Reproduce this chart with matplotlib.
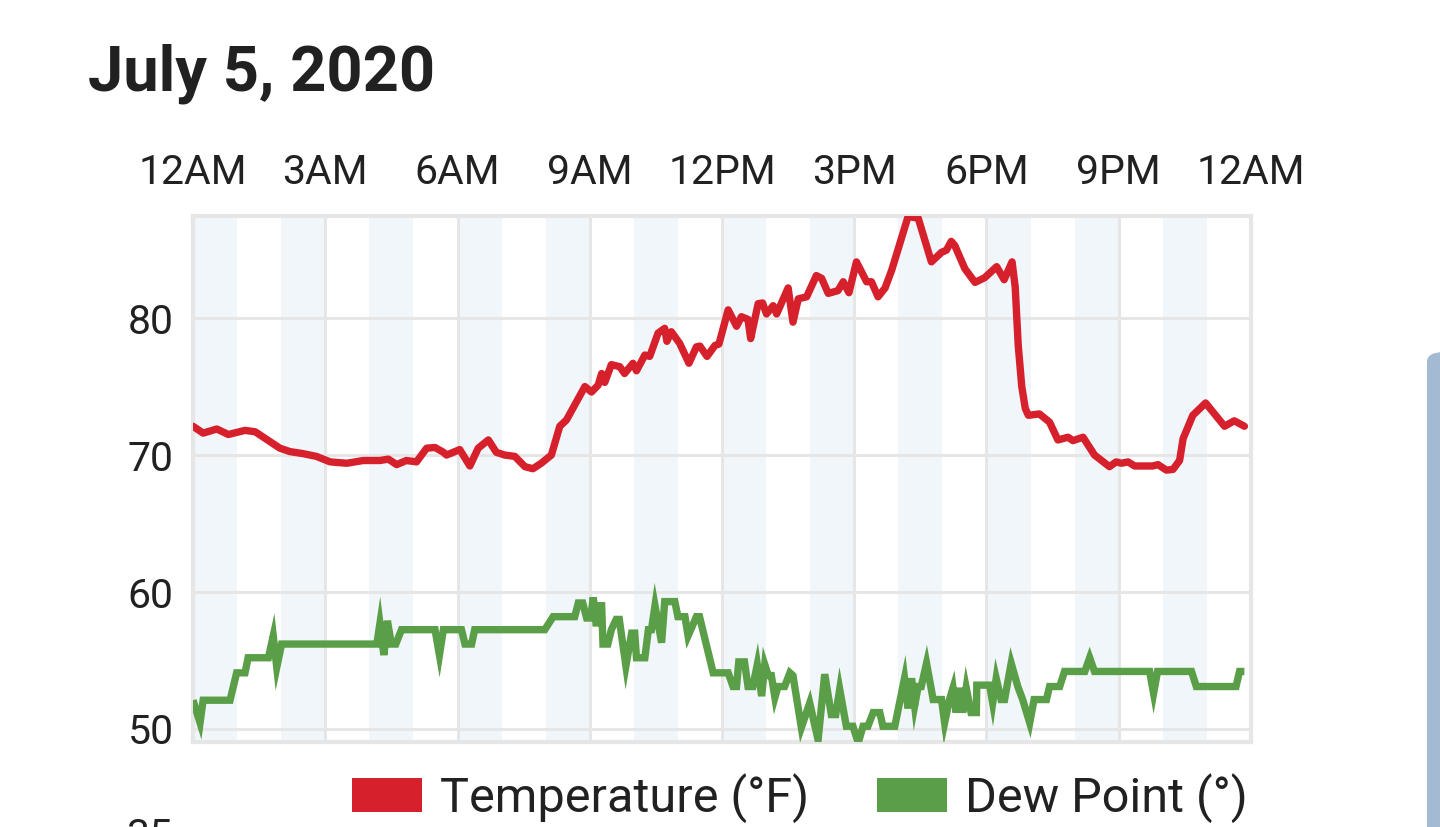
import matplotlib
matplotlib.use("Agg")
import matplotlib.pyplot as plt
from matplotlib.patches import Patch, FancyBboxPatch

plt.rcParams['font.family'] = ['Roboto', 'DejaVu Sans']

title = "July 5, 2020"
x_tick_hours = [0, 3, 6, 9, 12, 15, 18, 21, 24]
x_tick_labels = ["12AM", "3AM", "6AM", "9AM", "12PM", "3PM", "6PM", "9PM", "12AM"]
y_ticks = [50, 60, 70, 80]
shaded_hours = [0, 2, 4, 6, 8, 10, 12, 14, 16, 18, 20, 22]
series_names = ["Temperature (°F)", "Dew Point (°)"]

temp_t = [0.00, 0.23, 0.54, 0.80, 1.18, 1.41, 1.97, 2.20, 2.50, 2.80, 3.11, 3.49, 3.86, 4.24,
          4.43, 4.62, 4.84, 5.07, 5.30, 5.49, 5.68, 5.75, 5.83, 6.05, 6.28, 6.47, 6.70, 6.88,
          7.07, 7.30, 7.53, 7.71, 7.90, 8.13, 8.22, 8.32, 8.47, 8.70, 8.89, 9.04, 9.19, 9.27,
          9.34, 9.49, 9.68, 9.79, 9.98, 10.06, 10.25, 10.36, 10.55, 10.70, 10.75, 10.85,
          11.04, 11.25, 11.42, 11.50, 11.66, 11.84, 11.93, 12.14, 12.33, 12.44, 12.59, 12.65,
          12.82, 12.92, 13.01, 13.16, 13.24, 13.50, 13.61, 13.73, 13.92, 14.14, 14.26, 14.41,
          14.63, 14.75, 14.88, 15.05, 15.28, 15.39, 15.54, 15.70, 15.85, 16.22, 16.45, 16.75,
          16.98, 17.09, 17.20, 17.28, 17.51, 17.74, 17.96, 18.23, 18.40, 18.58, 18.65, 18.72,
          18.80, 18.88, 18.95, 19.20, 19.43, 19.62, 19.85, 19.96, 20.19, 20.45, 20.79, 20.94,
          21.06, 21.21, 21.36, 21.77, 21.89, 22.08, 22.23, 22.38, 22.46, 22.68, 22.97, 23.40,
          23.62, 23.85]
temp_v = [72.1, 71.6, 71.9, 71.5, 71.8, 71.7, 70.5, 70.25, 70.1, 69.9, 69.5, 69.4, 69.6, 69.6,
          69.7, 69.3, 69.6, 69.5, 70.5, 70.55, 70.2, 70.0, 70.1, 70.4, 69.2, 70.5, 71.1, 70.2,
          70.0, 69.9, 69.15, 69.0, 69.4, 70.0, 71.0, 72.1, 72.55, 73.9, 75.0, 74.6, 75.1, 75.95,
          75.3, 76.6, 76.45, 75.95, 76.7, 76.15, 77.3, 77.2, 78.9, 79.25, 78.3, 79.0,
          78.15, 76.7, 77.9, 77.95, 77.2, 78.0, 78.1, 80.6, 79.4, 80.1, 79.9, 78.5,
          81.05, 81.1, 80.3, 80.9, 80.3, 82.2, 79.7, 81.4, 81.55, 83.1, 82.9, 81.8,
          82.0, 82.65, 81.85, 84.1, 82.65, 82.65, 81.55, 82.2, 83.5, 87.4, 87.3, 84.1,
          84.8, 84.95, 85.6, 85.3, 83.6, 82.6, 82.95, 83.75, 82.8, 84.1, 82.3, 78.0,
          75.0, 73.4, 72.9, 73.0, 72.4, 71.1, 71.3, 71.05, 71.3, 70.0, 69.15, 69.5,
          69.4, 69.5, 69.2, 69.2, 69.3, 68.9, 68.95, 69.6, 71.2, 72.9, 73.8, 72.1,
          72.5, 72.1]

dew_t = [0.00, 0.16, 0.23, 0.84, 0.99, 1.18, 1.25, 1.71, 1.82, 1.90, 2.01, 4.17, 4.24, 4.33,
         4.41, 4.50, 4.60, 4.73, 5.49, 5.59, 5.68, 6.09, 6.17, 6.32, 6.39, 7.98, 8.17, 8.66,
         8.74, 8.84, 8.93, 9.02, 9.08, 9.15, 9.20, 9.27, 9.30, 9.41, 9.49, 9.60, 9.67, 9.82,
         9.95, 10.02, 10.06, 10.25, 10.33, 10.40, 10.48, 10.63, 10.70, 10.93, 11.00, 11.16,
         11.23, 11.42, 11.49, 11.80, 12.14, 12.25, 12.33, 12.38, 12.51, 12.59, 12.70, 12.80,
         12.90, 12.97, 13.05, 13.12, 13.20, 13.27, 13.42, 13.54, 13.61, 13.80, 13.99, 14.18,
         14.33, 14.48, 14.58, 14.67, 14.82, 14.97, 15.09, 15.20, 15.31, 15.43, 15.58, 15.65,
         15.92, 16.14, 16.22, 16.30, 16.37, 16.45, 16.52, 16.64, 16.79, 16.98, 17.05, 17.16,
         17.24, 17.31, 17.39, 17.46, 17.54, 17.65, 17.77, 17.78, 18.07, 18.14, 18.22, 18.33,
         18.41, 18.56, 18.71, 18.82, 18.98, 19.08, 19.36, 19.43, 19.66, 19.77, 20.23, 20.34,
         20.45, 21.70, 21.79, 21.88, 22.65, 22.76, 23.66, 23.74, 23.85]
dew_v = [52.1, 50.45, 52.1, 52.1, 54.1, 54.1, 55.2, 55.2, 56.8, 54.5, 56.2, 56.2, 57.7, 55.4,
         57.9, 56.2, 56.2, 57.25, 57.25, 55.4, 57.25, 57.25, 56.2, 56.2, 57.25, 57.25, 58.2, 58.2,
         59.2, 59.2, 58.1, 58.1, 59.6, 57.5, 59.0, 59.0, 56.2, 56.2, 57.25, 58.0, 58.0, 54.6,
         57.0, 57.0, 55.2, 55.2, 57.25, 57.25, 59.0, 56.3, 59.3, 59.3, 58.2, 58.2,
         56.8, 58.2, 58.2, 54.1, 54.1, 53.1, 53.1, 54.9, 54.9, 53.1, 53.1, 54.7,
         52.4, 54.7, 53.9, 53.9, 52.3, 53.1, 53.1, 54.1, 53.9, 50.1, 51.9, 49.2,
         54.0, 51.05, 51.05, 52.9, 50.2, 50.2, 49.0, 50.2, 50.2, 51.2, 51.2, 50.2,
         50.2, 53.7, 51.5, 53.7, 51.7, 53.1, 53.1, 54.8, 52.15, 52.15, 50.45, 52.15,
         53.0, 51.2, 53.0, 51.2, 53.0, 51.2, 51.2, 53.2, 53.2, 51.9, 53.7, 52.15,
         52.15, 54.8, 53.1, 52.15, 50.45, 52.15, 52.15, 53.1, 53.1, 54.2, 54.2, 55.2,
         54.2, 54.2, 52.6, 54.2, 54.2, 53.1, 53.1, 54.2, 54.2]

W, H = 1440, 827
fig = plt.figure(figsize=(W / 100, H / 100), dpi=100)
fig.patch.set_facecolor('white')

ax_left, ax_right, ax_top, ax_bottom = 193, 1251, 216, 742
ax = fig.add_axes([ax_left / W, 1 - ax_bottom / H, (ax_right - ax_left) / W, (ax_bottom - ax_top) / H])

grid_c = '#e6e6e6'
for h in shaded_hours:
    ax.axvspan(h, h + 1, color='#f1f6fa', lw=0, zorder=0)

ax.plot(temp_t, temp_v, color='#d6202b', lw=5.3, solid_joinstyle='round', solid_capstyle='round', zorder=3)
ax.plot(dew_t, dew_v, color='#5a9e47', lw=5.3, solid_joinstyle='miter', solid_capstyle='butt', zorder=3)

ax.set_xlim(0, 24)
ax.set_ylim(49.05, 87.45)
ax.set_xticks(x_tick_hours)
ax.set_xticklabels(x_tick_labels)
ax.set_yticks(y_ticks)
ax.xaxis.tick_top()
ax.tick_params(axis='x', length=0, pad=17, labelsize=29.5, labelcolor='#212121')
ax.tick_params(axis='y', length=0, pad=14, labelsize=29.5, labelcolor='#212121')
ax.grid(True, color=grid_c, lw=2.2, zorder=1)
ax.set_axisbelow(True)
for s in ax.spines.values():
    s.set_color(grid_c)
    s.set_linewidth(3)

handles = [Patch(facecolor='#d6202b', edgecolor='none'), Patch(facecolor='#5a9e47', edgecolor='none')]
fig.legend(handles, series_names, loc='center left', bbox_to_anchor=(352 / W, 1 - 798 / H),
           ncol=2, frameon=False, fontsize=35, handlelength=1.44, handleheight=0.72,
           handletextpad=0.37, columnspacing=1.4, borderpad=0, borderaxespad=0, labelcolor='#212121')

fig.text(88 / W, 1 - 90 / H, title, fontsize=45.5, fontweight='bold', color='#212121',
         ha='left', va='baseline')

# partially visible tick label of the next chart, cut off by the bottom edge as in the reference
fig.text(172 / W, 1 - 848 / H, "35", fontsize=29.5, color='#212121', ha='right', va='baseline')

fig.patches.append(FancyBboxPatch((1427 / W, -60 / H), 40 / W, (827 - 352 + 60) / H,
                                  boxstyle='round,pad=0,rounding_size=0.012', transform=fig.transFigure,
                                  facecolor='#a2bbd2', edgecolor='none', figure=fig))

fig.savefig('out.png', dpi=100)
